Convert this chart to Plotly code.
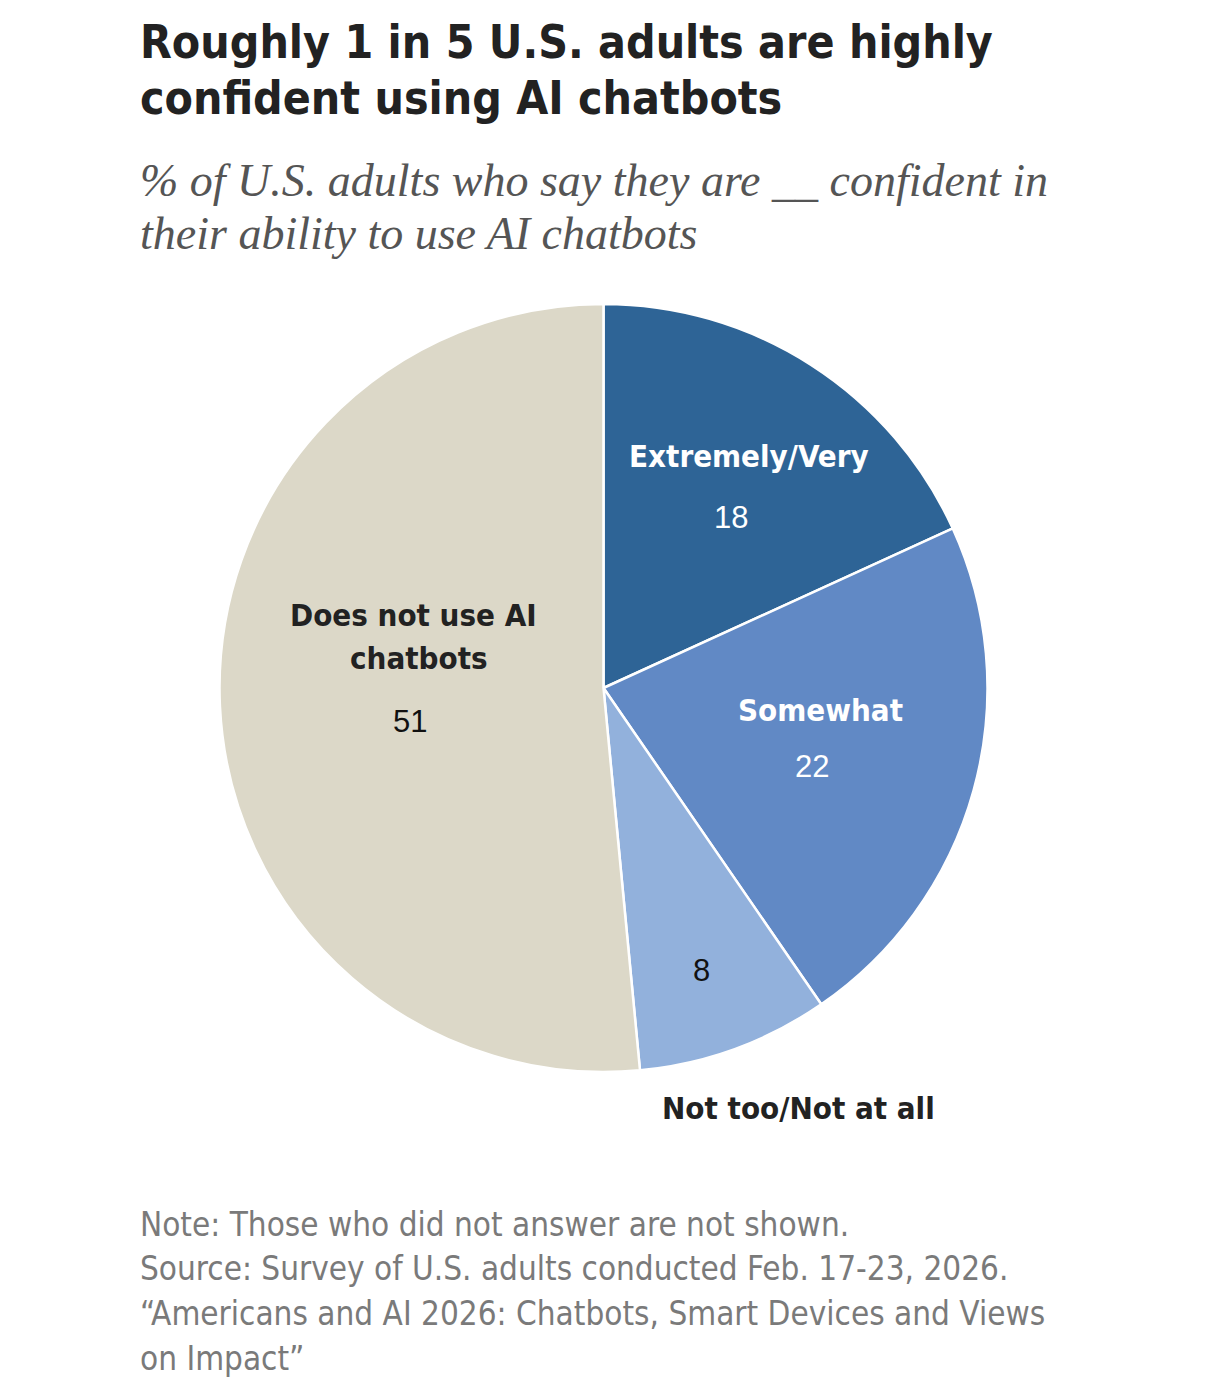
import plotly.graph_objects as go

W, H = 1206, 1393

categories = ["Extremely/Very", "Somewhat", "Not too/Not at all", "Does not use AI chatbots"]
values = [18, 22, 8, 51]
colors = ["#2e6496", "#6189c5", "#92b1dc", "#dcd8c8"]

title_lines = ["Roughly 1 in 5 U.S. adults are highly", "confident using AI chatbots"]
subtitle_lines = ["% of U.S. adults who say they are __ confident in",
                  "their ability to use AI chatbots"]
note_lines = ["Note: Those who did not answer are not shown.",
              "Source: Survey of U.S. adults conducted Feb. 17-23, 2026.",
              "\u201cAmericans and AI 2026: Chatbots, Smart Devices and Views",
              "on Impact\u201d"]


def px(x):
    return x / W


def py(y):
    return 1 - y / H


NARROW = "Liberation Sans Narrow, DejaVu Sans Condensed, Arial Narrow, sans-serif"
SANS = "Liberation Sans, Arial, sans-serif"
SERIF = "Liberation Serif, DejaVu Serif, Georgia, serif"

fig = go.Figure(go.Pie(
    labels=categories,
    values=values,
    marker=dict(colors=colors, line=dict(color="white", width=2.5)),
    sort=False,
    direction="clockwise",
    rotation=0,
    textinfo="none",
    hoverinfo="label+value",
    domain=dict(x=[px(219), px(988)], y=[py(1072), py(304)]),
    showlegend=False,
))

ann = []
for i, t in enumerate(title_lines):
    ann.append(dict(text=f"<b>{t}</b>", x=px(138), y=py([42, 98][i]), xanchor="left", yanchor="middle",
                    font=dict(family=NARROW, size=46, color="#222222")))
for i, t in enumerate(subtitle_lines):
    ann.append(dict(text=f"<i>{t}</i>", x=px(138), y=py([181, 234][i]), xanchor="left", yanchor="middle",
                    font=dict(family=SERIF, size=46, color="#555555")))
for i, t in enumerate(note_lines):
    ann.append(dict(text=t, x=px(138), y=py([1224, 1268, 1313, 1358][i]), xanchor="left", yanchor="middle",
                    font=dict(family=NARROW, size=33, color="#7a7a7a")))

# slice labels
label_specs = [
    ("<b>Extremely/Very</b>", 749, 456, "white", NARROW),
    ("18", 731, 517, "white", SANS),
    ("<b>Somewhat</b>", 820, 710, "white", NARROW),
    ("22", 812, 766, "white", SANS),
    ("<b>Does not use AI</b>", 413, 615, "#222222", NARROW),
    ("<b>chatbots</b>", 419, 658, "#222222", NARROW),
    ("51", 410, 721, "#111111", SANS),
    ("8", 701, 971, "#111111", SANS),
    ("<b>Not too/Not at all</b>", 798, 1108, "#222222", NARROW),
]
for t, x, y, c, f in label_specs:
    ann.append(dict(text=t, x=px(x), y=py(y), xanchor="center", yanchor="middle",
                    font=dict(family=f, size=31, color=c)))

for a in ann:
    a.update(xref="paper", yref="paper", showarrow=False)

fig.update_layout(
    width=W, height=H,
    margin=dict(l=0, r=0, t=0, b=0),
    paper_bgcolor="white",
    plot_bgcolor="white",
    annotations=ann,
)

fig.write_html("out.html")
